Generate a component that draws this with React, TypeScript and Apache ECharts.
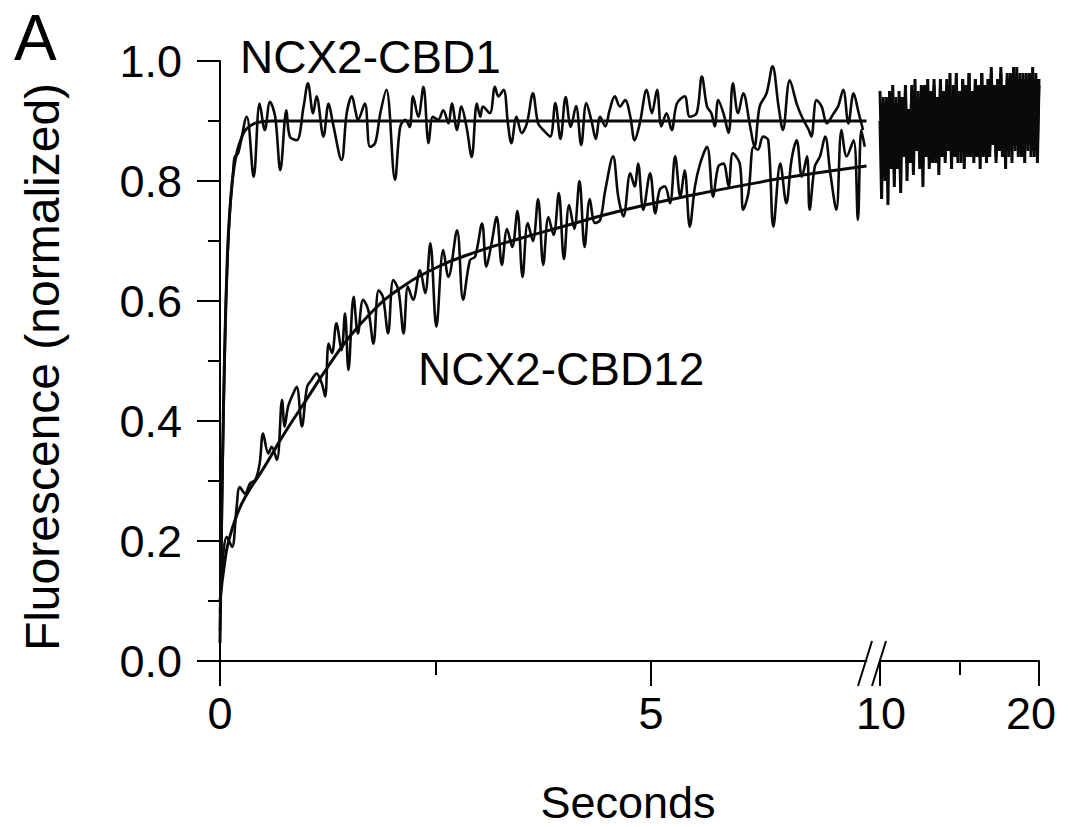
import React, { useEffect, useRef } from "react";
import * as echarts from "echarts";

const FONT = "'Liberation Sans', Arial, Helvetica, sans-serif";

// y-axis tick labels
const yTicks = [0, 0.2, 0.4, 0.6, 0.8, 1.0];
const leftXLabels = [0, 5];
const leftXMinor = [2.5];

// NCX2-CBD1 raw trace (seconds, normalized fluorescence)
const cbd1Time = [0, 0.03, 0.06, 0.09, 0.12, 0.15, 0.17, 0.21, 0.31, 0.39, 0.46, 0.52, 0.58, 0.64, 0.70, 0.77, 0.81, 0.89, 0.97, 1.02, 1.08, 1.12, 1.20, 1.26, 1.31, 1.41, 1.47, 1.53, 1.57, 1.60, 1.68, 1.74, 1.80, 1.86, 1.93, 2.03, 2.09, 2.15, 2.20, 2.24, 2.30, 2.36, 2.42, 2.47, 2.53, 2.59, 2.65, 2.69, 2.75, 2.80, 2.86, 2.92, 2.98, 3.02, 3.05, 3.13, 3.19, 3.23, 3.29, 3.34, 3.38, 3.44, 3.50, 3.56, 3.63, 3.69, 3.75, 3.83, 3.89, 3.95, 4.01, 4.07, 4.13, 4.19, 4.25, 4.31, 4.36, 4.41, 4.47, 4.52, 4.58, 4.64, 4.70, 4.76, 4.81, 4.87, 4.95, 5.01, 5.07, 5.12, 5.18, 5.24, 5.30, 5.39, 5.45, 5.53, 5.59, 5.65, 5.70, 5.74, 5.78, 5.84, 5.90, 5.95, 6.01, 6.07, 6.15, 6.20, 6.26, 6.34, 6.41, 6.48, 6.53, 6.61, 6.69, 6.75, 6.83, 6.86, 6.92, 6.98, 7.04, 7.12, 7.17, 7.23, 7.29, 7.35, 7.41, 7.46];
const cbd1Value = [0.05, 0.32, 0.55, 0.68, 0.76, 0.81, 0.84, 0.846, 0.907, 0.807, 0.929, 0.885, 0.932, 0.907, 0.818, 0.918, 0.874, 0.868, 0.924, 0.963, 0.913, 0.941, 0.874, 0.929, 0.896, 0.835, 0.913, 0.941, 0.918, 0.902, 0.929, 0.857, 0.863, 0.913, 0.952, 0.802, 0.890, 0.902, 0.890, 0.941, 0.907, 0.957, 0.863, 0.907, 0.902, 0.918, 0.896, 0.929, 0.885, 0.924, 0.890, 0.840, 0.929, 0.907, 0.924, 0.913, 0.957, 0.941, 0.952, 0.896, 0.863, 0.907, 0.880, 0.896, 0.946, 0.896, 0.885, 0.874, 0.93, 0.87, 0.94, 0.89, 0.925, 0.86, 0.93, 0.90, 0.87, 0.907, 0.891, 0.918, 0.941, 0.924, 0.935, 0.907, 0.868, 0.896, 0.952, 0.913, 0.952, 0.891, 0.913, 0.885, 0.929, 0.941, 0.907, 0.913, 0.974, 0.924, 0.913, 0.891, 0.935, 0.913, 0.880, 0.963, 0.913, 0.946, 0.891, 0.857, 0.924, 0.946, 0.991, 0.924, 0.885, 0.968, 0.929, 0.907, 0.885, 0.874, 0.935, 0.924, 0.896, 0.913, 0.924, 0.952, 0.896, 0.946, 0.913, 0.885];

// NCX2-CBD1 fitted curve
const cbd1FitTime = [0, 0.02, 0.04, 0.06, 0.08, 0.1, 0.13, 0.16, 0.2, 0.25, 0.3, 0.4, 0.5, 0.6, 1.0, 3.0, 5.0, 7.5];
const cbd1FitValue = [0.03, 0.25, 0.42, 0.55, 0.65, 0.72, 0.78, 0.82, 0.85, 0.872, 0.886, 0.896, 0.899, 0.9, 0.9, 0.9, 0.9, 0.9];

// NCX2-CBD12 raw trace
const cbd12Time = [0, 0.02, 0.08, 0.14, 0.19, 0.23, 0.29, 0.35, 0.41, 0.46, 0.50, 0.56, 0.60, 0.66, 0.72, 0.75, 0.79, 0.85, 0.89, 0.95, 1.01, 1.06, 1.12, 1.18, 1.22, 1.26, 1.30, 1.35, 1.41, 1.45, 1.49, 1.55, 1.60, 1.66, 1.72, 1.78, 1.84, 1.89, 1.95, 2.01, 2.07, 2.13, 2.18, 2.24, 2.32, 2.38, 2.44, 2.51, 2.59, 2.65, 2.75, 2.82, 2.90, 2.96, 3.04, 3.09, 3.15, 3.21, 3.27, 3.33, 3.39, 3.45, 3.51, 3.57, 3.63, 3.69, 3.75, 3.81, 3.87, 3.93, 3.99, 4.05, 4.11, 4.17, 4.23, 4.29, 4.35, 4.41, 4.47, 4.56, 4.62, 4.68, 4.76, 4.81, 4.85, 4.91, 4.99, 5.05, 5.10, 5.16, 5.22, 5.28, 5.34, 5.39, 5.45, 5.51, 5.57, 5.65, 5.72, 5.78, 5.84, 5.90, 5.95, 6.03, 6.07, 6.13, 6.19, 6.24, 6.30, 6.36, 6.42, 6.50, 6.57, 6.63, 6.69, 6.75, 6.81, 6.84, 6.90, 6.96, 7.02, 7.08, 7.15, 7.21, 7.27, 7.35, 7.40, 7.44, 7.48];
const cbd12Value = [0.08, 0.146, 0.207, 0.190, 0.252, 0.290, 0.279, 0.296, 0.302, 0.329, 0.379, 0.346, 0.357, 0.335, 0.435, 0.391, 0.424, 0.446, 0.457, 0.391, 0.457, 0.468, 0.479, 0.463, 0.441, 0.529, 0.513, 0.563, 0.518, 0.579, 0.485, 0.607, 0.546, 0.602, 0.585, 0.529, 0.618, 0.607, 0.546, 0.635, 0.618, 0.546, 0.624, 0.602, 0.651, 0.613, 0.696, 0.557, 0.685, 0.640, 0.718, 0.602, 0.668, 0.674, 0.729, 0.657, 0.696, 0.74, 0.66, 0.72, 0.69, 0.75, 0.64, 0.73, 0.70, 0.77, 0.66, 0.74, 0.71, 0.78, 0.67, 0.76, 0.72, 0.80, 0.69, 0.77, 0.73, 0.735, 0.785, 0.841, 0.774, 0.741, 0.813, 0.791, 0.829, 0.752, 0.813, 0.746, 0.785, 0.791, 0.763, 0.841, 0.774, 0.818, 0.724, 0.791, 0.829, 0.857, 0.774, 0.824, 0.829, 0.791, 0.846, 0.829, 0.752, 0.780, 0.857, 0.852, 0.874, 0.868, 0.724, 0.829, 0.763, 0.835, 0.868, 0.807, 0.841, 0.752, 0.824, 0.841, 0.874, 0.813, 0.752, 0.885, 0.841, 0.868, 0.735, 0.885, 0.857];

// NCX2-CBD12 fitted curve
const cbd12FitTime = [0, 0.05, 0.1, 0.2, 0.3, 0.5, 0.75, 1.0, 1.25, 1.5, 1.75, 2.0, 2.5, 3.0, 3.5, 4.0, 4.5, 5.0, 5.5, 6.0, 6.5, 7.0, 7.5];
const cbd12FitValue = [0.10, 0.16, 0.20, 0.245, 0.275, 0.32, 0.38, 0.435, 0.49, 0.54, 0.58, 0.612, 0.655, 0.683, 0.705, 0.725, 0.745, 0.762, 0.777, 0.791, 0.804, 0.815, 0.825];

// 10-20 s segment, sampled every 0.1 s
const tailStart = 10;
const tailStep = 0.1;
const tailCbd1 = [0.95, 0.84, 0.93, 0.80, 0.94, 0.86, 0.92, 0.83, 0.96, 0.85, 0.93, 0.82, 0.95, 0.87, 0.94, 0.84, 0.96, 0.83, 0.92, 0.86, 0.95, 0.84, 0.97, 0.85, 0.93, 0.83, 0.96, 0.87, 0.94, 0.84, 0.97, 0.86, 0.95, 0.83, 0.96, 0.85, 0.93, 0.84, 0.97, 0.86, 0.95, 0.84, 0.96, 0.87, 0.98, 0.85, 0.94, 0.84, 0.97, 0.86, 0.95, 0.83, 0.97, 0.87, 0.96, 0.85, 0.98, 0.84, 0.95, 0.86, 0.97, 0.85, 0.96, 0.87, 0.98, 0.84, 0.95, 0.86, 0.97, 0.85, 0.98, 0.87, 0.96, 0.84, 0.97, 0.86, 0.99, 0.85, 0.96, 0.87, 0.97, 0.84, 0.98, 0.86, 0.96, 0.85, 0.99, 0.87, 0.97, 0.84, 0.98, 0.86, 0.96, 0.85, 0.98, 0.87, 0.97, 0.84, 0.98, 0.86, 0.97];
const tailCbd12 = [0.90, 0.77, 0.94, 0.81, 0.92, 0.76, 0.95, 0.82, 0.91, 0.79, 0.94, 0.83, 0.90, 0.78, 0.93, 0.84, 0.95, 0.80, 0.92, 0.83, 0.96, 0.81, 0.93, 0.85, 0.95, 0.82, 0.94, 0.79, 0.96, 0.84, 0.93, 0.82, 0.95, 0.85, 0.97, 0.83, 0.94, 0.81, 0.96, 0.84, 0.95, 0.83, 0.97, 0.85, 0.94, 0.82, 0.96, 0.84, 0.98, 0.83, 0.95, 0.85, 0.97, 0.82, 0.96, 0.84, 0.98, 0.85, 0.95, 0.83, 0.97, 0.84, 0.96, 0.82, 0.98, 0.85, 0.96, 0.83, 0.97, 0.84, 0.99, 0.86, 0.96, 0.83, 0.97, 0.85, 0.98, 0.84, 0.96, 0.82, 0.98, 0.85, 0.97, 0.83, 0.99, 0.86, 0.96, 0.84, 0.98, 0.85, 0.97, 0.83, 0.98, 0.86, 0.96, 0.84, 0.99, 0.85, 0.97, 0.83, 0.96];

const zip = (t: number[], v: number[]) => {
  const n = Math.min(t.length, v.length);
  const out: number[][] = [];
  for (let i = 0; i < n; i++) out.push([t[i], v[i]]);
  return out;
};
const tail = (v: number[]) => v.map((y, i) => [tailStart + i * tailStep, y]);

const INK = "#0a0a0a";
const axisLine = { show: true, onZero: false, lineStyle: { color: "#000", width: 2 } };
const labelStyle = { color: "#000", fontSize: 45, fontFamily: FONT };

const option: any = {
  animation: false,
  backgroundColor: "#fff",
  grid: [
    { left: 220, top: 61, width: 646.5, height: 600 },
    { left: 880, top: 61, width: 159, height: 600 },
  ],
  xAxis: [
    {
      gridIndex: 0, type: "value", min: 0, max: 7.5, interval: 5, position: "bottom",
      axisLine,
      axisTick: { show: true, customValues: leftXLabels, length: 25, lineStyle: { color: "#000", width: 2 } },
      axisLabel: { ...labelStyle, customValues: leftXLabels, margin: 30 },
      splitLine: { show: false },
    },
    {
      gridIndex: 0, type: "value", min: 0, max: 7.5, interval: 2.5, position: "bottom",
      axisLine: { show: false },
      axisTick: { show: true, customValues: leftXMinor, length: 14, lineStyle: { color: "#000", width: 2 } },
      axisLabel: { show: false },
      splitLine: { show: false },
    },
    {
      gridIndex: 1, type: "value", min: 10, max: 20, interval: 10, position: "bottom",
      axisLine,
      axisTick: { show: true, length: 25, lineStyle: { color: "#000", width: 2 } },
      minorTick: { show: true, splitNumber: 2, length: 14, lineStyle: { color: "#000", width: 2 } },
      axisLabel: {
        ...labelStyle, margin: 30,
        formatter: (v: number) => (v === 10 ? "{a|10}" : "{b|20}"),
        rich: {
          a: { ...labelStyle, padding: [0, 0, 0, 2] },
          b: { ...labelStyle, padding: [0, 16, 0, 0] },
        },
      },
      splitLine: { show: false },
      minorSplitLine: { show: false },
    },
  ],
  yAxis: [
    {
      gridIndex: 0, type: "value", min: 0, max: 1, interval: 0.2,
      axisLine,
      axisTick: { show: true, length: 23, lineStyle: { color: "#000", width: 2 } },
      minorTick: { show: true, splitNumber: 2, length: 12, lineStyle: { color: "#000", width: 2 } },
      axisLabel: { ...labelStyle, margin: 38, formatter: (v: number) => v.toFixed(1), customValues: yTicks },
      splitLine: { show: false },
      minorSplitLine: { show: false },
    },
    { gridIndex: 1, type: "value", min: 0, max: 1, show: false, splitLine: { show: false } },
  ],
  series: [
    {
      name: "NCX2-CBD1", type: "line", xAxisIndex: 0, yAxisIndex: 0,
      data: zip(cbd1Time, cbd1Value), showSymbol: false, smooth: 0.35,
      lineStyle: { color: INK, width: 2.6 }, clip: true,
    },
    {
      name: "NCX2-CBD12", type: "line", xAxisIndex: 0, yAxisIndex: 0,
      data: zip(cbd12Time, cbd12Value), showSymbol: false, smooth: 0.35,
      lineStyle: { color: INK, width: 2.6 }, clip: true,
    },
    {
      name: "NCX2-CBD1 fit", type: "line", xAxisIndex: 0, yAxisIndex: 0,
      data: zip(cbd1FitTime, cbd1FitValue), showSymbol: false, smooth: true,
      lineStyle: { color: INK, width: 3 }, clip: true,
    },
    {
      name: "NCX2-CBD12 fit", type: "line", xAxisIndex: 0, yAxisIndex: 0,
      data: zip(cbd12FitTime, cbd12FitValue), showSymbol: false, smooth: true,
      lineStyle: { color: INK, width: 3 }, clip: true,
    },
    {
      name: "NCX2-CBD1 (10-20 s)", type: "line", xAxisIndex: 2, yAxisIndex: 1,
      data: tail(tailCbd1), showSymbol: false,
      lineStyle: { color: INK, width: 3 }, clip: true,
    },
    {
      name: "NCX2-CBD12 (10-20 s)", type: "line", xAxisIndex: 2, yAxisIndex: 1,
      data: tail(tailCbd12), showSymbol: false,
      lineStyle: { color: INK, width: 3 }, clip: true,
    },
  ],
  graphic: [
    { type: "text", x: 14, y: 38, style: { text: "A", fontSize: 64, lineHeight: 64, fontFamily: FONT, fill: "#000", align: "left", verticalAlign: "middle" } },
    { type: "text", x: 240, y: 57, style: { text: "NCX2-CBD1", fontSize: 46, fontFamily: FONT, fill: "#000", align: "left", verticalAlign: "middle" } },
    { type: "text", x: 418, y: 369, style: { text: "NCX2-CBD12", fontSize: 46, fontFamily: FONT, fill: "#000", align: "left", verticalAlign: "middle" } },
    { type: "text", x: 628, y: 802, style: { text: "Seconds", fontSize: 45, fontFamily: FONT, fill: "#000", align: "center", verticalAlign: "middle" } },
    { type: "text", x: 42, y: 367, rotation: Math.PI / 2, style: { text: "Fluorescence (normalized)", fontSize: 48, fontFamily: FONT, fill: "#000", align: "center", verticalAlign: "middle" } },
    { type: "line", shape: { x1: 858, y1: 686, x2: 872, y2: 641 }, style: { stroke: "#000", lineWidth: 2 } },
    { type: "line", shape: { x1: 872, y1: 686, x2: 886, y2: 641 }, style: { stroke: "#000", lineWidth: 2 } },
  ],
};

export default function App() {
  const ref = useRef<HTMLDivElement>(null);
  useEffect(() => {
    const chart = echarts.init(ref.current!, null, { renderer: "svg" });
    chart.setOption(option);
    return () => chart.dispose();
  }, []);
  return (
    <div
      ref={ref}
      style={{ position: "absolute", left: 0, top: 0, width: 1068, height: 827, background: "#fff" }}
    />
  );
}
